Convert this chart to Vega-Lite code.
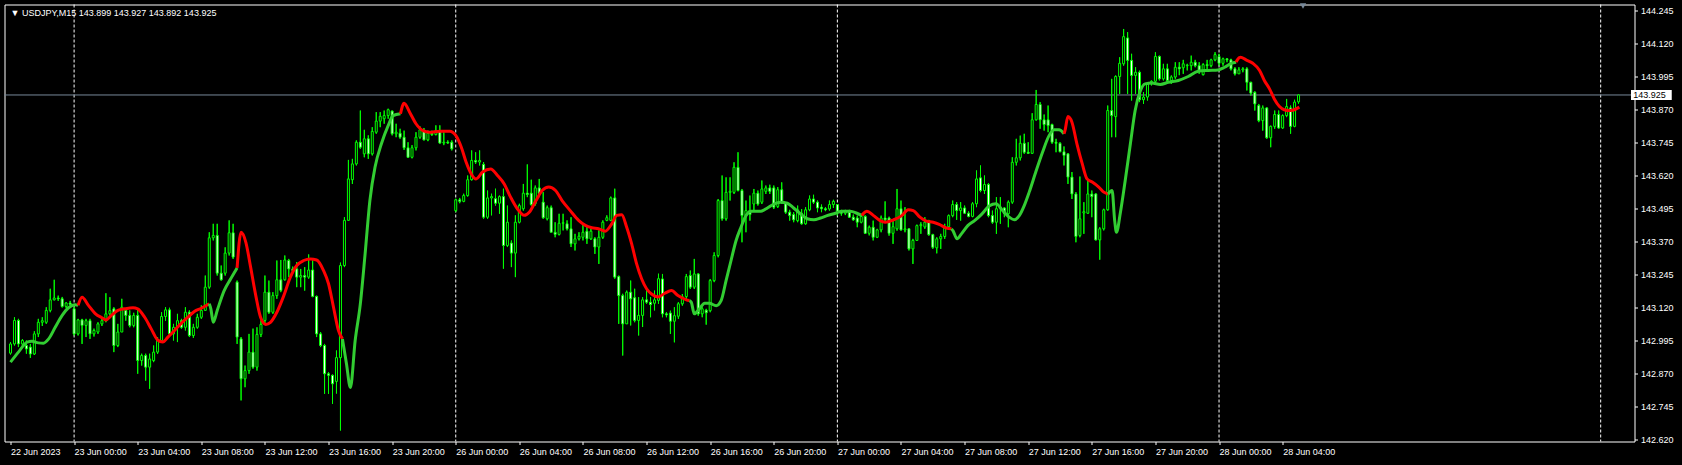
{
"$schema":"https://vega.github.io/schema/vega-lite/v6.json",
"width":1630,"height":437,
"autosize":{"type":"none"},
"padding":{"left":4.5,"top":4.5,"right":47.5,"bottom":23.5},
"background":"#000000",
"title":{"text":"▼  USDJPY,M15  143.899 143.927 143.892 143.925","anchor":"start","frame":"group","color":"#FFFFFF","font":"Liberation Sans","fontSize":9,"fontWeight":"normal","offset":-12,"dx":6,"dy":10,"baseline":"alphabetic"},
"config":{"view":{"stroke":"#FFFFFF","strokeWidth":1,"fill":"#000000"},"font":"Liberation Sans","axis":{"labelOverlap":false,"labelBound":false,"labelFlush":false},"axisY":{"labelOverlap":false,"tickCount":30}},
"datasets":{
"days":[{"i":16},{"i":112},{"i":208},{"i":304},{"i":400}],
"last":[{"price":143.925}],
"bars":[
{"i":0,"o":142.947,"h":142.989,"l":142.942,"c":142.982},
{"i":1,"o":142.982,"h":143.083,"l":142.976,"c":143.071},
{"i":2,"o":143.071,"h":143.077,"l":142.970,"c":142.982},
{"i":3,"o":142.982,"h":143.000,"l":142.975,"c":142.995},
{"i":4,"o":142.976,"h":142.995,"l":142.945,"c":142.963},
{"i":5,"o":142.970,"h":142.982,"l":142.929,"c":142.944},
{"i":6,"o":142.944,"h":143.030,"l":142.940,"c":143.020},
{"i":7,"o":143.020,"h":143.077,"l":143.008,"c":143.064},
{"i":8,"o":143.064,"h":143.083,"l":143.050,"c":143.070},
{"i":9,"o":143.064,"h":143.121,"l":143.058,"c":143.109},
{"i":10,"o":143.109,"h":143.191,"l":143.102,"c":143.149},
{"i":11,"o":143.149,"h":143.225,"l":143.147,"c":143.156},
{"i":12,"o":143.156,"h":143.165,"l":143.145,"c":143.153},
{"i":13,"o":143.153,"h":143.160,"l":143.120,"c":143.124},
{"i":14,"o":143.124,"h":143.140,"l":143.118,"c":143.137},
{"i":15,"o":143.137,"h":143.145,"l":143.128,"c":143.132},
{"i":16,"o":143.115,"h":143.121,"l":143.014,"c":143.020},
{"i":17,"o":143.020,"h":143.077,"l":143.014,"c":143.073},
{"i":18,"o":143.073,"h":143.077,"l":142.982,"c":143.052},
{"i":19,"o":143.052,"h":143.077,"l":143.008,"c":143.070},
{"i":20,"o":143.070,"h":143.077,"l":143.001,"c":143.020},
{"i":21,"o":143.020,"h":143.040,"l":143.010,"c":143.033},
{"i":22,"o":143.027,"h":143.064,"l":143.020,"c":143.058},
{"i":23,"o":143.058,"h":143.077,"l":143.050,"c":143.070},
{"i":24,"o":143.070,"h":143.174,"l":143.064,"c":143.096},
{"i":25,"o":143.096,"h":143.159,"l":143.090,"c":143.108},
{"i":26,"o":143.115,"h":143.121,"l":142.951,"c":142.976},
{"i":27,"o":142.976,"h":143.058,"l":142.970,"c":143.027},
{"i":28,"o":143.027,"h":143.153,"l":143.027,"c":143.121},
{"i":29,"o":143.109,"h":143.115,"l":143.070,"c":143.090},
{"i":30,"o":143.090,"h":143.109,"l":143.045,"c":143.052},
{"i":31,"o":143.052,"h":143.100,"l":143.045,"c":143.090},
{"i":32,"o":143.090,"h":143.115,"l":142.869,"c":142.919},
{"i":33,"o":142.919,"h":142.945,"l":142.900,"c":142.938},
{"i":34,"o":142.938,"h":142.945,"l":142.843,"c":142.894},
{"i":35,"o":142.894,"h":142.945,"l":142.812,"c":142.925},
{"i":36,"o":142.919,"h":142.976,"l":142.913,"c":142.951},
{"i":37,"o":142.951,"h":143.008,"l":142.944,"c":142.995},
{"i":38,"o":142.995,"h":143.102,"l":142.989,"c":143.086},
{"i":39,"o":143.086,"h":143.121,"l":143.070,"c":143.111},
{"i":40,"o":143.111,"h":143.119,"l":143.014,"c":143.020},
{"i":41,"o":143.020,"h":143.058,"l":142.995,"c":143.045},
{"i":42,"o":143.045,"h":143.096,"l":142.989,"c":143.070},
{"i":43,"o":143.070,"h":143.077,"l":143.040,"c":143.045},
{"i":44,"o":143.045,"h":143.121,"l":143.033,"c":143.102},
{"i":45,"o":143.102,"h":143.109,"l":143.008,"c":143.014},
{"i":46,"o":143.014,"h":143.058,"l":143.005,"c":143.045},
{"i":47,"o":143.045,"h":143.096,"l":143.040,"c":143.083},
{"i":48,"o":143.083,"h":143.128,"l":143.077,"c":143.109},
{"i":49,"o":143.109,"h":143.241,"l":143.109,"c":143.197},
{"i":50,"o":143.197,"h":143.405,"l":143.191,"c":143.384},
{"i":51,"o":143.384,"h":143.437,"l":143.374,"c":143.393},
{"i":52,"o":143.393,"h":143.437,"l":143.241,"c":143.250},
{"i":53,"o":143.250,"h":143.279,"l":143.222,"c":143.225},
{"i":54,"o":143.250,"h":143.348,"l":143.241,"c":143.326},
{"i":55,"o":143.326,"h":143.450,"l":143.317,"c":143.403},
{"i":56,"o":143.403,"h":143.437,"l":143.304,"c":143.311},
{"i":57,"o":143.216,"h":143.222,"l":142.982,"c":143.008},
{"i":58,"o":143.001,"h":143.008,"l":142.768,"c":142.850},
{"i":59,"o":142.850,"h":142.900,"l":142.818,"c":142.881},
{"i":60,"o":142.881,"h":143.020,"l":142.869,"c":142.951},
{"i":61,"o":142.951,"h":143.040,"l":142.888,"c":142.894},
{"i":62,"o":142.894,"h":143.045,"l":142.881,"c":143.018},
{"i":63,"o":143.018,"h":143.071,"l":143.008,"c":143.056},
{"i":64,"o":143.071,"h":143.241,"l":143.058,"c":143.178},
{"i":65,"o":143.178,"h":143.222,"l":143.096,"c":143.102},
{"i":66,"o":143.102,"h":143.178,"l":143.096,"c":143.165},
{"i":67,"o":143.165,"h":143.298,"l":143.153,"c":143.225},
{"i":68,"o":143.225,"h":143.300,"l":143.178,"c":143.185},
{"i":69,"o":143.225,"h":143.317,"l":143.222,"c":143.300},
{"i":70,"o":143.298,"h":143.304,"l":143.235,"c":143.266},
{"i":71,"o":143.266,"h":143.275,"l":143.250,"c":143.260},
{"i":72,"o":143.266,"h":143.292,"l":143.197,"c":143.235},
{"i":73,"o":143.235,"h":143.266,"l":143.197,"c":143.241},
{"i":74,"o":143.241,"h":143.273,"l":143.184,"c":143.235},
{"i":75,"o":143.235,"h":143.321,"l":143.229,"c":143.262},
{"i":76,"o":143.262,"h":143.298,"l":143.159,"c":143.162},
{"i":77,"o":143.162,"h":143.165,"l":143.008,"c":143.020},
{"i":78,"o":143.020,"h":143.027,"l":142.970,"c":142.976},
{"i":79,"o":142.976,"h":142.982,"l":142.793,"c":142.869},
{"i":80,"o":142.869,"h":142.875,"l":142.793,"c":142.863},
{"i":81,"o":142.863,"h":142.866,"l":142.755,"c":142.831},
{"i":82,"o":142.840,"h":142.957,"l":142.794,"c":142.930},
{"i":83,"o":142.930,"h":143.290,"l":142.654,"c":143.279},
{"i":84,"o":143.279,"h":143.462,"l":143.273,"c":143.450},
{"i":85,"o":143.450,"h":143.679,"l":143.450,"c":143.607},
{"i":86,"o":143.604,"h":143.683,"l":143.588,"c":143.664},
{"i":87,"o":143.664,"h":143.753,"l":143.658,"c":143.746},
{"i":88,"o":143.746,"h":143.866,"l":143.721,"c":143.727},
{"i":89,"o":143.702,"h":143.793,"l":143.689,"c":143.759},
{"i":90,"o":143.759,"h":143.772,"l":143.683,"c":143.702},
{"i":91,"o":143.702,"h":143.803,"l":143.696,"c":143.787},
{"i":92,"o":143.784,"h":143.860,"l":143.778,"c":143.826},
{"i":93,"o":143.826,"h":143.860,"l":143.803,"c":143.844},
{"i":94,"o":143.835,"h":143.866,"l":143.816,"c":143.847},
{"i":95,"o":143.847,"h":143.873,"l":143.835,"c":143.869},
{"i":96,"o":143.864,"h":143.866,"l":143.772,"c":143.778},
{"i":97,"o":143.778,"h":143.816,"l":143.765,"c":143.784},
{"i":98,"o":143.780,"h":143.797,"l":143.759,"c":143.765},
{"i":99,"o":143.765,"h":143.790,"l":143.717,"c":143.725},
{"i":100,"o":143.725,"h":143.746,"l":143.687,"c":143.689},
{"i":101,"o":143.689,"h":143.735,"l":143.685,"c":143.725},
{"i":102,"o":143.725,"h":143.784,"l":143.715,"c":143.765},
{"i":103,"o":143.765,"h":143.806,"l":143.759,"c":143.793},
{"i":104,"o":143.790,"h":143.800,"l":143.753,"c":143.755},
{"i":105,"o":143.755,"h":143.790,"l":143.750,"c":143.780},
{"i":106,"o":143.780,"h":143.790,"l":143.770,"c":143.775},
{"i":107,"o":143.775,"h":143.810,"l":143.772,"c":143.790},
{"i":108,"o":143.788,"h":143.810,"l":143.740,"c":143.743},
{"i":109,"o":143.743,"h":143.784,"l":143.735,"c":143.746},
{"i":110,"o":143.746,"h":143.753,"l":143.740,"c":143.743},
{"i":111,"o":143.746,"h":143.753,"l":143.715,"c":143.721},
{"i":112,"o":143.487,"h":143.532,"l":143.481,"c":143.528},
{"i":113,"o":143.528,"h":143.535,"l":143.515,"c":143.522},
{"i":114,"o":143.522,"h":143.551,"l":143.519,"c":143.544},
{"i":115,"o":143.544,"h":143.620,"l":143.540,"c":143.604},
{"i":116,"o":143.604,"h":143.715,"l":143.601,"c":143.677},
{"i":117,"o":143.677,"h":143.708,"l":143.664,"c":143.671},
{"i":118,"o":143.671,"h":143.715,"l":143.658,"c":143.677},
{"i":119,"o":143.662,"h":143.671,"l":143.456,"c":143.462},
{"i":120,"o":143.462,"h":143.563,"l":143.456,"c":143.535},
{"i":121,"o":143.535,"h":143.551,"l":143.469,"c":143.540},
{"i":122,"o":143.532,"h":143.570,"l":143.506,"c":143.515},
{"i":123,"o":143.515,"h":143.544,"l":143.475,"c":143.540},
{"i":124,"o":143.540,"h":143.570,"l":143.267,"c":143.355},
{"i":125,"o":143.355,"h":143.506,"l":143.349,"c":143.443},
{"i":126,"o":143.364,"h":143.374,"l":143.273,"c":143.326},
{"i":127,"o":143.326,"h":143.469,"l":143.235,"c":143.443},
{"i":128,"o":143.443,"h":143.513,"l":143.439,"c":143.506},
{"i":129,"o":143.494,"h":143.588,"l":143.487,"c":143.553},
{"i":130,"o":143.553,"h":143.662,"l":143.538,"c":143.548},
{"i":131,"o":143.553,"h":143.604,"l":143.506,"c":143.510},
{"i":132,"o":143.513,"h":143.582,"l":143.506,"c":143.573},
{"i":133,"o":143.573,"h":143.607,"l":143.538,"c":143.551},
{"i":134,"o":143.519,"h":143.557,"l":143.456,"c":143.460},
{"i":135,"o":143.456,"h":143.506,"l":143.450,"c":143.498},
{"i":136,"o":143.498,"h":143.506,"l":143.405,"c":143.405},
{"i":137,"o":143.405,"h":143.443,"l":143.386,"c":143.397},
{"i":138,"o":143.397,"h":143.475,"l":143.393,"c":143.439},
{"i":139,"o":143.439,"h":143.475,"l":143.412,"c":143.441},
{"i":140,"o":143.437,"h":143.450,"l":143.412,"c":143.418},
{"i":141,"o":143.418,"h":143.462,"l":143.349,"c":143.361},
{"i":142,"o":143.361,"h":143.399,"l":143.336,"c":143.380},
{"i":143,"o":143.380,"h":143.405,"l":143.374,"c":143.390},
{"i":144,"o":143.386,"h":143.437,"l":143.374,"c":143.405},
{"i":145,"o":143.409,"h":143.430,"l":143.361,"c":143.380},
{"i":146,"o":143.380,"h":143.418,"l":143.376,"c":143.409},
{"i":147,"o":143.380,"h":143.386,"l":143.323,"c":143.349},
{"i":148,"o":143.349,"h":143.412,"l":143.285,"c":143.386},
{"i":149,"o":143.386,"h":143.450,"l":143.380,"c":143.443},
{"i":150,"o":143.450,"h":143.469,"l":143.447,"c":143.460},
{"i":151,"o":143.450,"h":143.540,"l":143.447,"c":143.535},
{"i":152,"o":143.535,"h":143.570,"l":143.229,"c":143.235},
{"i":153,"o":143.237,"h":143.241,"l":143.058,"c":143.165},
{"i":154,"o":143.165,"h":143.172,"l":142.938,"c":143.058},
{"i":155,"o":143.058,"h":143.184,"l":143.058,"c":143.178},
{"i":156,"o":143.178,"h":143.222,"l":143.052,"c":143.153},
{"i":157,"o":143.157,"h":143.191,"l":143.064,"c":143.071},
{"i":158,"o":143.071,"h":143.159,"l":143.014,"c":143.090},
{"i":159,"o":143.090,"h":143.159,"l":143.046,"c":143.149},
{"i":160,"o":143.149,"h":143.191,"l":143.134,"c":143.140},
{"i":161,"o":143.140,"h":143.159,"l":143.083,"c":143.131},
{"i":162,"o":143.136,"h":143.184,"l":143.109,"c":143.149},
{"i":163,"o":143.147,"h":143.248,"l":143.134,"c":143.229},
{"i":164,"o":143.228,"h":143.247,"l":143.083,"c":143.096},
{"i":165,"o":143.096,"h":143.102,"l":143.083,"c":143.092},
{"i":166,"o":143.099,"h":143.108,"l":143.020,"c":143.068},
{"i":167,"o":143.068,"h":143.121,"l":142.988,"c":143.089},
{"i":168,"o":143.087,"h":143.140,"l":143.077,"c":143.134},
{"i":169,"o":143.134,"h":143.171,"l":143.127,"c":143.161},
{"i":170,"o":143.161,"h":143.247,"l":143.146,"c":143.237},
{"i":171,"o":143.241,"h":143.260,"l":143.190,"c":143.197},
{"i":172,"o":143.197,"h":143.304,"l":143.190,"c":143.247},
{"i":173,"o":143.247,"h":143.250,"l":143.089,"c":143.096},
{"i":174,"o":143.096,"h":143.121,"l":143.083,"c":143.115},
{"i":175,"o":143.110,"h":143.115,"l":143.055,"c":143.100},
{"i":176,"o":143.108,"h":143.228,"l":143.102,"c":143.222},
{"i":177,"o":143.222,"h":143.329,"l":143.216,"c":143.317},
{"i":178,"o":143.317,"h":143.531,"l":143.310,"c":143.525},
{"i":179,"o":143.525,"h":143.620,"l":143.449,"c":143.456},
{"i":180,"o":143.456,"h":143.613,"l":143.449,"c":143.556},
{"i":181,"o":143.556,"h":143.613,"l":143.525,"c":143.560},
{"i":182,"o":143.556,"h":143.670,"l":143.550,"c":143.651},
{"i":183,"o":143.651,"h":143.708,"l":143.560,"c":143.563},
{"i":184,"o":143.563,"h":143.569,"l":143.367,"c":143.468},
{"i":185,"o":143.468,"h":143.525,"l":143.405,"c":143.487},
{"i":186,"o":143.487,"h":143.544,"l":143.449,"c":143.472},
{"i":187,"o":143.512,"h":143.569,"l":143.487,"c":143.553},
{"i":188,"o":143.553,"h":143.563,"l":143.506,"c":143.512},
{"i":189,"o":143.519,"h":143.601,"l":143.512,"c":143.569},
{"i":190,"o":143.560,"h":143.582,"l":143.550,"c":143.573},
{"i":191,"o":143.573,"h":143.585,"l":143.550,"c":143.560},
{"i":192,"o":143.573,"h":143.582,"l":143.493,"c":143.500},
{"i":193,"o":143.503,"h":143.576,"l":143.497,"c":143.566},
{"i":194,"o":143.566,"h":143.594,"l":143.512,"c":143.519},
{"i":195,"o":143.515,"h":143.519,"l":143.475,"c":143.481},
{"i":196,"o":143.481,"h":143.490,"l":143.449,"c":143.468},
{"i":197,"o":143.472,"h":143.481,"l":143.443,"c":143.452},
{"i":198,"o":143.449,"h":143.506,"l":143.443,"c":143.490},
{"i":199,"o":143.477,"h":143.493,"l":143.434,"c":143.437},
{"i":200,"o":143.437,"h":143.500,"l":143.434,"c":143.490},
{"i":201,"o":143.490,"h":143.544,"l":143.485,"c":143.531},
{"i":202,"o":143.531,"h":143.547,"l":143.512,"c":143.519},
{"i":203,"o":143.519,"h":143.525,"l":143.481,"c":143.497},
{"i":204,"o":143.500,"h":143.510,"l":143.481,"c":143.494},
{"i":205,"o":143.494,"h":143.500,"l":143.485,"c":143.490},
{"i":206,"o":143.493,"h":143.525,"l":143.487,"c":143.510},
{"i":207,"o":143.510,"h":143.528,"l":143.497,"c":143.522},
{"i":208,"o":143.510,"h":143.512,"l":143.468,"c":143.485},
{"i":209,"o":143.485,"h":143.490,"l":143.468,"c":143.477},
{"i":210,"o":143.477,"h":143.490,"l":143.470,"c":143.485},
{"i":211,"o":143.481,"h":143.490,"l":143.459,"c":143.462},
{"i":212,"o":143.462,"h":143.472,"l":143.449,"c":143.452},
{"i":213,"o":143.459,"h":143.468,"l":143.424,"c":143.443},
{"i":214,"o":143.443,"h":143.475,"l":143.439,"c":143.465},
{"i":215,"o":143.465,"h":143.469,"l":143.399,"c":143.401},
{"i":216,"o":143.401,"h":143.430,"l":143.393,"c":143.424},
{"i":217,"o":143.424,"h":143.449,"l":143.374,"c":143.386},
{"i":218,"o":143.386,"h":143.418,"l":143.383,"c":143.414},
{"i":219,"o":143.414,"h":143.468,"l":143.405,"c":143.459},
{"i":220,"o":143.459,"h":143.522,"l":143.443,"c":143.452},
{"i":221,"o":143.459,"h":143.464,"l":143.392,"c":143.401},
{"i":222,"o":143.401,"h":143.449,"l":143.361,"c":143.426},
{"i":223,"o":143.418,"h":143.569,"l":143.411,"c":143.494},
{"i":224,"o":143.494,"h":143.525,"l":143.411,"c":143.414},
{"i":225,"o":143.414,"h":143.500,"l":143.405,"c":143.418},
{"i":226,"o":143.418,"h":143.420,"l":143.336,"c":143.342},
{"i":227,"o":143.342,"h":143.380,"l":143.285,"c":143.374},
{"i":228,"o":143.374,"h":143.434,"l":143.374,"c":143.430},
{"i":229,"o":143.430,"h":143.443,"l":143.399,"c":143.434},
{"i":230,"o":143.425,"h":143.462,"l":143.418,"c":143.443},
{"i":231,"o":143.449,"h":143.452,"l":143.392,"c":143.396},
{"i":232,"o":143.396,"h":143.399,"l":143.342,"c":143.348},
{"i":233,"o":143.346,"h":143.386,"l":143.325,"c":143.380},
{"i":234,"o":143.380,"h":143.399,"l":143.342,"c":143.389},
{"i":235,"o":143.389,"h":143.437,"l":143.380,"c":143.426},
{"i":236,"o":143.426,"h":143.472,"l":143.424,"c":143.468},
{"i":237,"o":143.468,"h":143.525,"l":143.462,"c":143.510},
{"i":238,"o":143.510,"h":143.519,"l":143.452,"c":143.487},
{"i":239,"o":143.487,"h":143.519,"l":143.449,"c":143.497},
{"i":240,"o":143.497,"h":143.506,"l":143.474,"c":143.477},
{"i":241,"o":143.477,"h":143.484,"l":143.462,"c":143.465},
{"i":242,"o":143.465,"h":143.519,"l":143.462,"c":143.513},
{"i":243,"o":143.513,"h":143.639,"l":143.500,"c":143.607},
{"i":244,"o":143.611,"h":143.658,"l":143.557,"c":143.563},
{"i":245,"o":143.563,"h":143.620,"l":143.550,"c":143.586},
{"i":246,"o":143.586,"h":143.591,"l":143.462,"c":143.468},
{"i":247,"o":143.468,"h":143.487,"l":143.437,"c":143.443},
{"i":248,"o":143.443,"h":143.538,"l":143.399,"c":143.494},
{"i":249,"o":143.494,"h":143.538,"l":143.437,"c":143.500},
{"i":250,"o":143.497,"h":143.500,"l":143.462,"c":143.475},
{"i":251,"o":143.475,"h":143.525,"l":143.424,"c":143.519},
{"i":252,"o":143.519,"h":143.689,"l":143.513,"c":143.670},
{"i":253,"o":143.670,"h":143.759,"l":143.658,"c":143.687},
{"i":254,"o":143.687,"h":143.771,"l":143.677,"c":143.742},
{"i":255,"o":143.742,"h":143.778,"l":143.702,"c":143.708},
{"i":256,"o":143.708,"h":143.746,"l":143.702,"c":143.704},
{"i":257,"o":143.704,"h":143.856,"l":143.702,"c":143.831},
{"i":258,"o":143.831,"h":143.944,"l":143.828,"c":143.889},
{"i":259,"o":143.889,"h":143.898,"l":143.797,"c":143.831},
{"i":260,"o":143.831,"h":143.851,"l":143.790,"c":143.813},
{"i":261,"o":143.831,"h":143.885,"l":143.784,"c":143.809},
{"i":262,"o":143.813,"h":143.816,"l":143.740,"c":143.746},
{"i":263,"o":143.746,"h":143.759,"l":143.708,"c":143.742},
{"i":264,"o":143.742,"h":143.746,"l":143.708,"c":143.710},
{"i":265,"o":143.710,"h":143.730,"l":143.658,"c":143.696},
{"i":266,"o":143.702,"h":143.704,"l":143.588,"c":143.614},
{"i":267,"o":143.614,"h":143.633,"l":143.531,"c":143.550},
{"i":268,"o":143.550,"h":143.557,"l":143.367,"c":143.389},
{"i":269,"o":143.393,"h":143.616,"l":143.386,"c":143.456},
{"i":270,"o":143.478,"h":143.519,"l":143.399,"c":143.483},
{"i":271,"o":143.477,"h":143.601,"l":143.475,"c":143.550},
{"i":272,"o":143.550,"h":143.563,"l":143.462,"c":143.540},
{"i":273,"o":143.550,"h":143.553,"l":143.374,"c":143.376},
{"i":274,"o":143.376,"h":143.424,"l":143.301,"c":143.418},
{"i":275,"o":143.418,"h":143.494,"l":143.412,"c":143.490},
{"i":276,"o":143.490,"h":143.885,"l":143.487,"c":143.866},
{"i":277,"o":143.866,"h":143.986,"l":143.765,"c":143.847},
{"i":278,"o":143.843,"h":143.999,"l":143.765,"c":143.995},
{"i":279,"o":143.995,"h":144.068,"l":143.929,"c":144.045},
{"i":280,"o":144.043,"h":144.175,"l":144.036,"c":144.146},
{"i":281,"o":144.141,"h":144.163,"l":143.929,"c":144.056},
{"i":282,"o":144.056,"h":144.081,"l":143.904,"c":143.999},
{"i":283,"o":143.999,"h":144.030,"l":143.929,"c":144.011},
{"i":284,"o":144.011,"h":144.017,"l":143.898,"c":143.907},
{"i":285,"o":143.907,"h":143.936,"l":143.891,"c":143.917},
{"i":286,"o":143.917,"h":143.973,"l":143.904,"c":143.967},
{"i":287,"o":143.967,"h":143.980,"l":143.961,"c":143.977},
{"i":288,"o":143.977,"h":144.087,"l":143.967,"c":144.071},
{"i":289,"o":144.071,"h":144.074,"l":143.980,"c":143.986},
{"i":290,"o":143.986,"h":144.043,"l":143.980,"c":144.024},
{"i":291,"o":144.024,"h":144.043,"l":143.967,"c":143.980},
{"i":292,"o":143.980,"h":143.999,"l":143.967,"c":143.993},
{"i":293,"o":143.993,"h":144.049,"l":143.986,"c":144.030},
{"i":294,"o":144.030,"h":144.049,"l":144.000,"c":144.024},
{"i":295,"o":144.028,"h":144.058,"l":144.005,"c":144.043},
{"i":296,"o":144.036,"h":144.043,"l":144.018,"c":144.038},
{"i":297,"o":144.036,"h":144.074,"l":144.018,"c":144.049},
{"i":298,"o":144.049,"h":144.058,"l":144.030,"c":144.036},
{"i":299,"o":144.036,"h":144.049,"l":144.005,"c":144.017},
{"i":300,"o":144.002,"h":144.045,"l":143.999,"c":144.040},
{"i":301,"o":144.040,"h":144.058,"l":144.018,"c":144.036},
{"i":302,"o":144.036,"h":144.062,"l":144.030,"c":144.058},
{"i":303,"o":144.058,"h":144.087,"l":144.053,"c":144.078},
{"i":304,"o":144.071,"h":144.081,"l":144.036,"c":144.045},
{"i":305,"o":144.045,"h":144.066,"l":144.036,"c":144.062},
{"i":306,"o":144.062,"h":144.064,"l":144.049,"c":144.058},
{"i":307,"o":144.058,"h":144.062,"l":144.018,"c":144.024},
{"i":308,"o":144.024,"h":144.030,"l":143.999,"c":144.005},
{"i":309,"o":144.005,"h":144.030,"l":144.005,"c":144.020},
{"i":310,"o":144.020,"h":144.030,"l":144.011,"c":144.024},
{"i":311,"o":144.024,"h":144.030,"l":143.942,"c":143.973},
{"i":312,"o":143.973,"h":143.975,"l":143.923,"c":143.932},
{"i":313,"o":143.935,"h":143.939,"l":143.866,"c":143.891},
{"i":314,"o":143.885,"h":143.891,"l":143.822,"c":143.828},
{"i":315,"o":143.828,"h":143.885,"l":143.790,"c":143.876},
{"i":316,"o":143.876,"h":143.878,"l":143.759,"c":143.763},
{"i":317,"o":143.763,"h":143.809,"l":143.727,"c":143.806},
{"i":318,"o":143.806,"h":143.866,"l":143.797,"c":143.851},
{"i":319,"o":143.851,"h":143.866,"l":143.797,"c":143.800},
{"i":320,"o":143.800,"h":143.851,"l":143.797,"c":143.847},
{"i":321,"o":143.847,"h":143.910,"l":143.841,"c":143.881},
{"i":322,"o":143.876,"h":143.885,"l":143.778,"c":143.806},
{"i":323,"o":143.806,"h":143.907,"l":143.803,"c":143.898},
{"i":324,"o":143.899,"h":143.927,"l":143.892,"c":143.925}
],
"ma":[
{"i":0,"v":142.913,"s":1,"t":"g"},{"i":2,"v":142.951,"s":1,"t":"g"},{"i":4.2,"v":142.989,"s":1,"t":"g"},{"i":5.4,"v":142.992,"s":1,"t":"g"},{"i":7,"v":142.986,"s":1,"t":"g"},{"i":8.3,"v":142.985,"s":1,"t":"g"},{"i":9.6,"v":143.001,"s":1,"t":"g"},{"i":11.25,"v":143.045,"s":1,"t":"g"},{"i":13,"v":143.090,"s":1,"t":"g"},{"i":14.6,"v":143.119,"s":1,"t":"g"},{"i":16.25,"v":143.130,"s":1,"t":"g"},{"i":17,"v":143.128,"s":1,"t":"g"},
{"i":17,"v":143.128,"s":2,"t":"r"},{"i":18,"v":143.159,"s":2,"t":"r"},{"i":19.6,"v":143.128,"s":2,"t":"r"},{"i":21.25,"v":143.098,"s":2,"t":"r"},{"i":23,"v":143.081,"s":2,"t":"r"},{"i":24,"v":143.073,"s":2,"t":"r"},{"i":25.4,"v":143.090,"s":2,"t":"r"},{"i":27,"v":143.109,"s":2,"t":"r"},{"i":28.75,"v":143.115,"s":2,"t":"r"},{"i":30.8,"v":143.119,"s":2,"t":"r"},{"i":32,"v":143.115,"s":2,"t":"r"},{"i":33.75,"v":143.083,"s":2,"t":"r"},{"i":35.4,"v":143.039,"s":2,"t":"r"},{"i":37,"v":142.997,"s":2,"t":"r"},{"i":38.3,"v":142.989,"s":2,"t":"r"},{"i":39.6,"v":143.008,"s":2,"t":"r"},{"i":41.25,"v":143.033,"s":2,"t":"r"},{"i":43,"v":143.061,"s":2,"t":"r"},{"i":44.6,"v":143.083,"s":2,"t":"r"},{"i":46.25,"v":143.105,"s":2,"t":"r"},{"i":48,"v":143.117,"s":2,"t":"r"},{"i":50,"v":143.134,"s":2,"t":"r"},
{"i":50,"v":143.134,"s":3,"t":"g"},{"i":50.4,"v":143.115,"s":3,"t":"g"},{"i":51,"v":143.064,"s":3,"t":"g"},{"i":52,"v":143.109,"s":3,"t":"g"},{"i":53.75,"v":143.184,"s":3,"t":"g"},{"i":55.4,"v":143.229,"s":3,"t":"g"},{"i":57,"v":143.270,"s":3,"t":"g"},
{"i":57,"v":143.270,"s":4,"t":"r"},{"i":58,"v":143.405,"s":4,"t":"r"},{"i":59.2,"v":143.367,"s":4,"t":"r"},{"i":60.4,"v":143.273,"s":4,"t":"r"},{"i":61.7,"v":143.165,"s":4,"t":"r"},{"i":62.9,"v":143.083,"s":4,"t":"r"},{"i":64.2,"v":143.056,"s":4,"t":"r"},{"i":65.4,"v":143.064,"s":4,"t":"r"},{"i":67,"v":143.102,"s":4,"t":"r"},{"i":68.75,"v":143.165,"s":4,"t":"r"},{"i":70.4,"v":143.235,"s":4,"t":"r"},{"i":72,"v":143.279,"s":4,"t":"r"},{"i":73.75,"v":143.298,"s":4,"t":"r"},{"i":75.4,"v":143.304,"s":4,"t":"r"},{"i":77,"v":143.300,"s":4,"t":"r"},{"i":78.75,"v":143.260,"s":4,"t":"r"},{"i":80,"v":143.210,"s":4,"t":"r"},{"i":81.25,"v":143.121,"s":4,"t":"r"},{"i":82.5,"v":143.033,"s":4,"t":"r"},{"i":83.5,"v":143.001,"s":4,"t":"r"},
{"i":83.5,"v":143.001,"s":5,"t":"g"},{"i":84.5,"v":142.908,"s":5,"t":"g"},{"i":85.5,"v":142.817,"s":5,"t":"g"},{"i":86.7,"v":142.995,"s":5,"t":"g"},{"i":88,"v":143.134,"s":5,"t":"g"},{"i":89.2,"v":143.323,"s":5,"t":"g"},{"i":90.4,"v":143.525,"s":5,"t":"g"},{"i":91.7,"v":143.652,"s":5,"t":"g"},{"i":93.3,"v":143.740,"s":5,"t":"g"},{"i":95,"v":143.809,"s":5,"t":"g"},{"i":96.25,"v":143.847,"s":5,"t":"g"},{"i":98.1,"v":143.854,"s":5,"t":"g"},
{"i":98.1,"v":143.854,"s":6,"t":"r"},{"i":99,"v":143.894,"s":6,"t":"r"},{"i":100.4,"v":143.860,"s":6,"t":"r"},{"i":102,"v":143.816,"s":6,"t":"r"},{"i":103.75,"v":143.790,"s":6,"t":"r"},{"i":105.4,"v":143.784,"s":6,"t":"r"},{"i":108,"v":143.788,"s":6,"t":"r"},{"i":110.5,"v":143.788,"s":6,"t":"r"},{"i":112,"v":143.772,"s":6,"t":"r"},{"i":113.4,"v":143.727,"s":6,"t":"r"},{"i":114.6,"v":143.671,"s":6,"t":"r"},{"i":115.9,"v":143.626,"s":6,"t":"r"},{"i":117.1,"v":143.607,"s":6,"t":"r"},{"i":118.75,"v":143.633,"s":6,"t":"r"},{"i":120.8,"v":143.645,"s":6,"t":"r"},{"i":122.5,"v":143.620,"s":6,"t":"r"},{"i":124.2,"v":143.588,"s":6,"t":"r"},{"i":125.8,"v":143.538,"s":6,"t":"r"},{"i":127.5,"v":143.494,"s":6,"t":"r"},{"i":129.2,"v":143.469,"s":6,"t":"r"},{"i":130.5,"v":143.481,"s":6,"t":"r"},{"i":132.2,"v":143.525,"s":6,"t":"r"},{"i":133.75,"v":143.563,"s":6,"t":"r"},{"i":135.4,"v":143.576,"s":6,"t":"r"},{"i":137.1,"v":143.563,"s":6,"t":"r"},{"i":138.75,"v":143.525,"s":6,"t":"r"},{"i":140.8,"v":143.487,"s":6,"t":"r"},{"i":142.9,"v":143.450,"s":6,"t":"r"},{"i":144.6,"v":143.431,"s":6,"t":"r"},{"i":146.25,"v":143.422,"s":6,"t":"r"},{"i":147.9,"v":143.418,"s":6,"t":"r"},{"i":149.6,"v":143.409,"s":6,"t":"r"},{"i":151.25,"v":143.437,"s":6,"t":"r"},{"i":152.5,"v":143.469,"s":6,"t":"r"},{"i":153.75,"v":143.471,"s":6,"t":"r"},{"i":155,"v":143.424,"s":6,"t":"r"},{"i":156.25,"v":143.361,"s":6,"t":"r"},{"i":157.5,"v":143.285,"s":6,"t":"r"},{"i":158.75,"v":143.229,"s":6,"t":"r"},{"i":160,"v":143.191,"s":6,"t":"r"},{"i":161.25,"v":143.171,"s":6,"t":"r"},{"i":162.9,"v":143.160,"s":6,"t":"r"},{"i":164.6,"v":143.174,"s":6,"t":"r"},{"i":166.25,"v":143.184,"s":6,"t":"r"},{"i":167.9,"v":143.165,"s":6,"t":"r"},{"i":170,"v":143.149,"s":6,"t":"r"},{"i":170.8,"v":143.146,"s":6,"t":"r"},
{"i":170.8,"v":143.146,"s":7,"t":"g"},{"i":171.25,"v":143.140,"s":7,"t":"g"},{"i":172,"v":143.096,"s":7,"t":"g"},{"i":173.3,"v":143.115,"s":7,"t":"g"},{"i":174.6,"v":143.136,"s":7,"t":"g"},{"i":175.8,"v":143.136,"s":7,"t":"g"},{"i":177.5,"v":143.127,"s":7,"t":"g"},{"i":178.75,"v":143.146,"s":7,"t":"g"},{"i":180,"v":143.222,"s":7,"t":"g"},{"i":181.25,"v":143.298,"s":7,"t":"g"},{"i":182.5,"v":143.373,"s":7,"t":"g"},{"i":183.75,"v":143.424,"s":7,"t":"g"},{"i":185,"v":143.468,"s":7,"t":"g"},{"i":186.25,"v":143.485,"s":7,"t":"g"},{"i":188.75,"v":143.485,"s":7,"t":"g"},{"i":190.4,"v":143.497,"s":7,"t":"g"},{"i":192,"v":143.512,"s":7,"t":"g"},{"i":193.75,"v":143.519,"s":7,"t":"g"},{"i":195.4,"v":143.515,"s":7,"t":"g"},{"i":197,"v":143.497,"s":7,"t":"g"},{"i":198.75,"v":143.474,"s":7,"t":"g"},{"i":200.4,"v":143.456,"s":7,"t":"g"},{"i":202.1,"v":143.452,"s":7,"t":"g"},{"i":203.75,"v":143.459,"s":7,"t":"g"},{"i":205.4,"v":143.468,"s":7,"t":"g"},{"i":207.5,"v":143.477,"s":7,"t":"g"},{"i":209.2,"v":143.485,"s":7,"t":"g"},{"i":211.25,"v":143.485,"s":7,"t":"g"},{"i":212.9,"v":143.477,"s":7,"t":"g"},{"i":214.2,"v":143.468,"s":7,"t":"g"},
{"i":214.2,"v":143.468,"s":8,"t":"r"},{"i":214.6,"v":143.477,"s":8,"t":"r"},{"i":215.4,"v":143.485,"s":8,"t":"r"},{"i":217.1,"v":143.468,"s":8,"t":"r"},{"i":218.75,"v":143.449,"s":8,"t":"r"},{"i":220,"v":143.443,"s":8,"t":"r"},{"i":222.1,"v":143.452,"s":8,"t":"r"},{"i":224.2,"v":143.468,"s":8,"t":"r"},{"i":225.8,"v":143.490,"s":8,"t":"r"},{"i":227.1,"v":143.487,"s":8,"t":"r"},{"i":228.75,"v":143.462,"s":8,"t":"r"},{"i":230.4,"v":143.447,"s":8,"t":"r"},{"i":232.1,"v":143.443,"s":8,"t":"r"},{"i":233.75,"v":143.434,"s":8,"t":"r"},{"i":235.4,"v":143.421,"s":8,"t":"r"},{"i":236.7,"v":143.418,"s":8,"t":"r"},
{"i":236.7,"v":143.418,"s":9,"t":"g"},{"i":237.1,"v":143.410,"s":9,"t":"g"},{"i":238.1,"v":143.380,"s":9,"t":"g"},{"i":239.2,"v":143.399,"s":9,"t":"g"},{"i":240.8,"v":143.430,"s":9,"t":"g"},{"i":242.5,"v":143.449,"s":9,"t":"g"},{"i":244.2,"v":143.472,"s":9,"t":"g"},{"i":246.25,"v":143.505,"s":9,"t":"g"},{"i":247.9,"v":143.513,"s":9,"t":"g"},{"i":249.6,"v":143.487,"s":9,"t":"g"},{"i":251.25,"v":143.462,"s":9,"t":"g"},{"i":252.5,"v":143.452,"s":9,"t":"g"},{"i":253.75,"v":143.468,"s":9,"t":"g"},{"i":255,"v":143.506,"s":9,"t":"g"},{"i":256.25,"v":143.557,"s":9,"t":"g"},{"i":257.9,"v":143.633,"s":9,"t":"g"},{"i":259.6,"v":143.708,"s":9,"t":"g"},{"i":261.25,"v":143.771,"s":9,"t":"g"},{"i":262.5,"v":143.793,"s":9,"t":"g"},{"i":263.75,"v":143.793,"s":9,"t":"g"},{"i":265,"v":143.778,"s":9,"t":"g"},
{"i":265,"v":143.778,"s":10,"t":"r"},{"i":265.25,"v":143.790,"s":10,"t":"r"},{"i":266,"v":143.843,"s":10,"t":"r"},{"i":267,"v":143.822,"s":10,"t":"r"},{"i":268.25,"v":143.740,"s":10,"t":"r"},{"i":269.6,"v":143.664,"s":10,"t":"r"},{"i":270.8,"v":143.607,"s":10,"t":"r"},{"i":272.1,"v":143.595,"s":10,"t":"r"},{"i":273.75,"v":143.576,"s":10,"t":"r"},{"i":275,"v":143.557,"s":10,"t":"r"},{"i":276.1,"v":143.550,"s":10,"t":"r"},
{"i":276.1,"v":143.550,"s":11,"t":"g"},{"i":277.1,"v":143.563,"s":11,"t":"g"},{"i":277.75,"v":143.449,"s":11,"t":"g"},{"i":278.2,"v":143.405,"s":11,"t":"g"},{"i":279.2,"v":143.481,"s":11,"t":"g"},{"i":280.4,"v":143.601,"s":11,"t":"g"},{"i":281.7,"v":143.740,"s":11,"t":"g"},{"i":282.9,"v":143.866,"s":11,"t":"g"},{"i":284.1,"v":143.936,"s":11,"t":"g"},{"i":285.4,"v":143.967,"s":11,"t":"g"},{"i":287.1,"v":143.970,"s":11,"t":"g"},{"i":289.2,"v":143.965,"s":11,"t":"g"},{"i":291.25,"v":143.973,"s":11,"t":"g"},{"i":293.75,"v":143.980,"s":11,"t":"g"},{"i":296.25,"v":143.995,"s":11,"t":"g"},{"i":298.75,"v":144.015,"s":11,"t":"g"},{"i":301.25,"v":144.018,"s":11,"t":"g"},{"i":303.75,"v":144.020,"s":11,"t":"g"},{"i":305.4,"v":144.030,"s":11,"t":"g"},{"i":307.1,"v":144.045,"s":11,"t":"g"},{"i":308.3,"v":144.049,"s":11,"t":"g"},
{"i":308.3,"v":144.049,"s":12,"t":"r"},{"i":308.6,"v":144.058,"s":12,"t":"r"},{"i":309.4,"v":144.068,"s":12,"t":"r"},{"i":310.8,"v":144.058,"s":12,"t":"r"},{"i":312.5,"v":144.045,"s":12,"t":"r"},{"i":314.2,"v":144.018,"s":12,"t":"r"},{"i":315.4,"v":143.980,"s":12,"t":"r"},{"i":316.7,"v":143.948,"s":12,"t":"r"},{"i":317.9,"v":143.910,"s":12,"t":"r"},{"i":319.2,"v":143.881,"s":12,"t":"r"},{"i":320.4,"v":143.869,"s":12,"t":"r"},{"i":321.7,"v":143.866,"s":12,"t":"r"},{"i":322.9,"v":143.869,"s":12,"t":"r"},{"i":324.2,"v":143.879,"s":12,"t":"r"}
]
},
"data":{"name":"bars"},
"layer":[
{"mark":{"type":"rule","color":"#00FF00","strokeWidth":1},
 "encoding":{
  "x":{"field":"i","type":"quantitative","scale":{"domain":[-0.25,407.25],"nice":false,"zero":false},
   "axis":{"orient":"bottom","title":null,"grid":false,"domain":false,"values":[0,16,32,48,64,80,96,112,128,144,160,176,192,208,224,240,256,272,288,304,320],"tickCount":50,
    "labelExpr":"['22 Jun 2023','23 Jun 00:00','23 Jun 04:00','23 Jun 08:00','23 Jun 12:00','23 Jun 16:00','23 Jun 20:00','26 Jun 00:00','26 Jun 04:00','26 Jun 08:00','26 Jun 12:00','26 Jun 16:00','26 Jun 20:00','27 Jun 00:00','27 Jun 04:00','27 Jun 08:00','27 Jun 12:00','27 Jun 16:00','27 Jun 20:00','28 Jun 00:00','28 Jun 04:00'][round(datum.value/16)]",
    "labelAlign":"left","labelBaseline":"top","labelPadding":3,"labelColor":"#FFFFFF","labelFont":"Liberation Sans","labelFontSize":9,"labelOverlap":false,"labelFlush":false,"labelBound":false,"tickColor":"#FFFFFF","tickSize":3,"tickWidth":1}},
  "y":{"field":"l","type":"quantitative","scale":{"domain":[142.6124,144.2677],"nice":false,"zero":false},
   "axis":{"orient":"right","title":null,"grid":false,"domain":false,"values":[142.62,142.745,142.87,142.995,143.12,143.245,143.37,143.495,143.62,143.745,143.87,143.995,144.12,144.245],"tickCount":30,
    "format":".3f","labelPadding":3,"labelColor":"#FFFFFF","labelFont":"Liberation Sans","labelFontSize":9,"labelOverlap":false,"labelFlush":false,"labelBound":false,"labelSeparation":0,"tickColor":"#FFFFFF","tickSize":3,"tickWidth":1}},
  "y2":{"field":"h"}}},
{"data":{"name":"days"},"mark":{"type":"rule","color":"#FFFFFF","strokeWidth":1,"strokeDash":[3,2]},
 "encoding":{"x":{"field":"i","type":"quantitative"}}},
{"data":{"name":"last"},"mark":{"type":"rule","color":"#778899","strokeWidth":1},
 "encoding":{"y":{"field":"price","type":"quantitative"}}},
{"mark":{"type":"rule","color":"#00FF00","strokeWidth":1},
 "encoding":{"x":{"field":"i","type":"quantitative"},"y":{"field":"l","type":"quantitative"},"y2":{"field":"h"}}},
{"mark":{"type":"bar","width":2,"stroke":"#00FF00","strokeWidth":1},
 "encoding":{
  "x":{"field":"i","type":"quantitative"},
  "y":{"field":"o","type":"quantitative"},
  "y2":{"field":"c"},
  "fill":{"condition":{"test":"datum.o > datum.c","value":"#FFFFFF"},"value":"#000000"}}},
{"data":{"name":"ma"},"mark":{"type":"line","strokeWidth":3,"interpolate":"monotone"},
 "encoding":{
  "x":{"field":"i","type":"quantitative"},
  "y":{"field":"v","type":"quantitative"},
  "detail":{"field":"s","type":"nominal"},
  "color":{"field":"t","type":"nominal","scale":{"domain":["g","r"],"range":["#32CD32","#FF0000"]},"legend":null}}},
{"data":{"name":"last"},"mark":{"type":"rect","fill":"#FFFFFF"},
 "encoding":{"x":{"datum":407.625},"x2":{"datum":417.875},"y":{"datum":143.906},"y2":{"datum":143.944}}},
{"data":{"name":"last"},"mark":{"type":"text","color":"#000000","align":"left","baseline":"middle","font":"Liberation Sans","fontSize":9},
 "encoding":{"x":{"datum":408.2},"y":{"field":"price","type":"quantitative"},"text":{"field":"price","type":"quantitative","format":".3f"}}},
{"data":{"name":"last"},"mark":{"type":"point","shape":"triangle-down","filled":true,"color":"#778899","size":40,"opacity":1},
 "encoding":{"x":{"datum":325.125},"y":{"datum":144.262}}}
]
}
